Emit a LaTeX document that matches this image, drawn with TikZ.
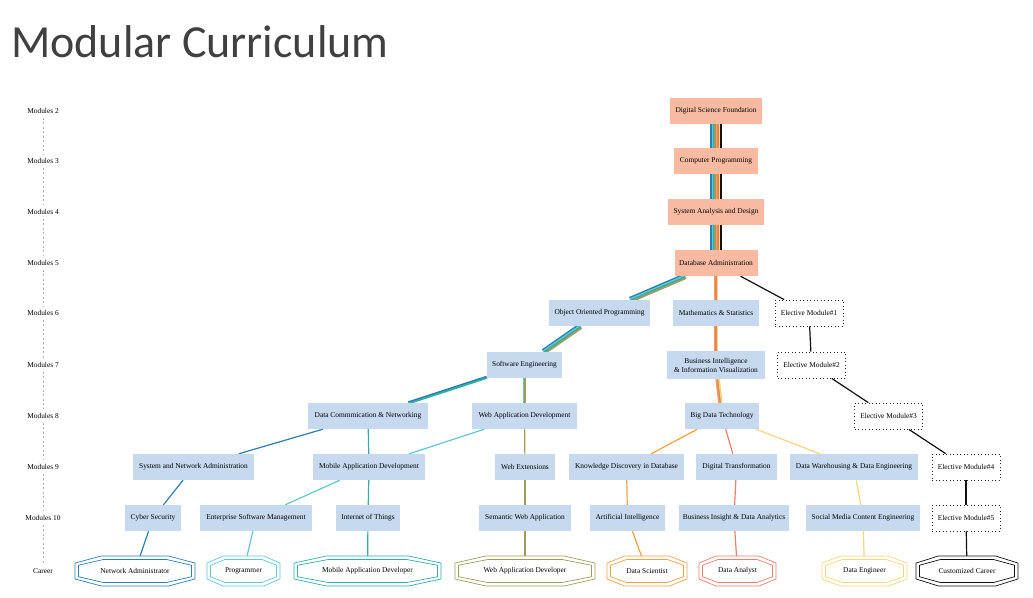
\documentclass[tikz,border=0pt]{standalone}
\usepackage{fontspec}
\setmainfont{Liberation Serif}
\newfontfamily\titlefont{Carlito}
\usetikzlibrary{calc}
\pgfdeclarelayer{bg}
\pgfsetlayers{bg,main}
\definecolor{boxblue}{HTML}{C6D9EE}
\definecolor{salmonbox}{HTML}{F8BBA2}
\definecolor{titlegray}{HTML}{404040}
\definecolor{cNA}{HTML}{2A7FB0}
\definecolor{cProg}{HTML}{62C6D6}
\definecolor{cMob}{HTML}{2EAEA6}
\definecolor{cWeb}{HTML}{A09B5C}
\definecolor{cDS}{HTML}{F3A145}
\definecolor{cDA}{HTML}{E8806C}
\definecolor{cDE}{HTML}{F4D67C}
\definecolor{cCC}{HTML}{111111}
\newcommand\stripew{1.4}
\newcommand\medge[3]{%
  \path (#1) -- (#2) coordinate[pos=0] (ms) coordinate[pos=1] (mt);
  \foreach \c [count=\i] in {#3} {\xdef\nst{\i}}%
  \foreach \c [count=\i] in {#3} {%
    \pgfmathsetmacro\off{(\i-(\nst+1)/2)*\stripew}%
    \draw[color=\c, line width=1.75pt] ($(ms)!\off pt!90:(mt)$) -- ($(mt)!\off pt!-90:(ms)$);
  }%
}
\newcommand\octa[4]{%
  \draw[#4, line width=0.7pt, shift={(#1)}]
    (-#2,{-0.53*#3}) -- ({-0.56*#2},-#3) -- ({0.56*#2},-#3) -- (#2,{-0.53*#3})
    -- (#2,{0.53*#3}) -- ({0.56*#2},#3) -- ({-0.56*#2},#3) -- (-#2,{0.53*#3}) -- cycle;
  \draw[#4, line width=0.7pt, shift={(#1)}]
    ({-(#2-3.5)},{-0.5*(#3-3.5)}) -- ({-0.56*(#2-3.5)},{-(#3-3.5)}) -- ({0.56*(#2-3.5)},{-(#3-3.5)}) -- ({#2-3.5},{-0.5*(#3-3.5)})
    -- ({#2-3.5},{0.5*(#3-3.5)}) -- ({0.56*(#2-3.5)},{#3-3.5}) -- ({-0.56*(#2-3.5)},{#3-3.5}) -- ({-(#2-3.5)},{0.5*(#3-3.5)}) -- cycle;
}
\begin{document}
\begin{tikzpicture}[x=1pt,y=-1pt,font=\fontsize{7.4}{9}\selectfont,
  box/.style={rectangle, fill=boxblue, minimum height=26pt, inner sep=2pt, text=black},
  found/.style={box, fill=salmonbox},
  bw/.style={minimum width=#1pt},
  elect/.style={rectangle, draw=black!85, line width=0.8pt, dash pattern=on 0.9pt off 2.6pt, fill=white, minimum height=26pt, minimum width=68pt, inner sep=2pt},
  career/.style={rectangle, minimum height=30pt, inner sep=0pt},
  rowlab/.style={inner sep=4pt, text=black},
  rowdash/.style={draw=black!30, line width=0.5pt, dash pattern=on 2pt off 2.5pt},
  edge/.style={line width=1.2pt}]
\useasboundingbox (0,0) rectangle (1033,597);
\node[anchor=base west, text=titlegray, font=\titlefont\fontsize{46}{50}\selectfont, inner sep=0pt] (title) at (11,57) {Modular Curriculum};

% row labels
\node[rowlab] (r2) at (43,111) {Modules 2};
\node[rowlab] (r3) at (43,161) {Modules 3};
\node[rowlab] (r4) at (43,212) {Modules 4};
\node[rowlab] (r5) at (43,263) {Modules 5};
\node[rowlab] (r6) at (43,313) {Modules 6};
\node[rowlab] (r7) at (43,365) {Modules 7};
\node[rowlab] (r8) at (43,416) {Modules 8};
\node[rowlab] (r9) at (43,467) {Modules 9};
\node[rowlab] (r10) at (43,518) {Modules 10};
\node[rowlab] (rc) at (43,571) {Career};
\foreach \a/\b in {r2/r3,r3/r4,r4/r5,r5/r6,r6/r7,r7/r8,r8/r9,r9/r10,r10/rc}
  \draw[rowdash] (\a) -- (\b);

% foundation
\node[found,bw=92] (dsf) at (716,111) {Digital Science Foundation};
\node[found,bw=84] (cp) at (716,161) {Computer Programming};
\node[found,bw=96] (sad) at (716,212) {System Analysis and Design};
\node[found,bw=83] (dba) at (716,263) {Database Administration};
% row 6
\node[box,bw=101] (oop) at (599.5,313) {Object Oriented Programming};
\node[box,bw=86] (math) at (716,313) {Mathematics \& Statistics};
\node[elect] (e1) at (809,313) {Elective Module\#1};
% row 7
\node[box,bw=75] (se) at (524.5,365) {Software Engineering};
\node[box,bw=98,minimum height=28pt,align=center] (bi) at (716,365) {Business Intelligence\\\& Information Visualization};
\node[elect] (e2) at (811.5,365) {Elective Module\#2};
% row 8
\node[box,bw=120] (dcn) at (368,416) {Data Commmication \& Networking};
\node[box,bw=105] (wad) at (524.5,416) {Web Application Development};
\node[box,bw=74] (bdt) at (722,416) {Big Data Technology};
\node[elect] (e3) at (888.5,416) {Elective Module\#3};
% row 9
\node[box,bw=121] (sna) at (193.5,467) {System and Network Administration};
\node[box,bw=112] (mad) at (369,467) {Mobile Application Development};
\node[box,bw=60] (we) at (525,467) {Web Extensions};
\node[box,bw=115] (kdd) at (626.5,467) {Knowledge Discovery in Database};
\node[box,bw=81] (dt) at (736.5,467) {Digital Transformation};
\node[box,bw=128] (dwde) at (854,467) {Data Warehousing \& Data Engineering};
\node[elect] (e4) at (966,467) {Elective Module\#4};
% row 10
\node[box,bw=56] (cs) at (153,518) {Cyber Security};
\node[box,bw=112] (esm) at (256,518) {Enterprise Software Management};
\node[box,bw=64] (iot) at (368,518) {Internet of Things};
\node[box,bw=92] (swa) at (525,518) {Semantic Web Application};
\node[box,bw=75] (ai) at (627.5,518) {Artificial Intelligence};
\node[box,bw=110] (bida) at (734,518) {Business Insight \& Data Analytics};
\node[box,bw=114] (smce) at (863,518) {Social Media Content Engineering};
\node[elect] (e5) at (966,518) {Elective Module\#5};
% careers
\node[career,bw=120] (na) at (135,571) {Network Administrator};
\node[career,bw=73] (prog) at (243.5,571) {Programmer};
\node[career,bw=147] (mobdev) at (367.5,571) {Mobile Application Developer};
\node[career,bw=140] (webdev) at (525,571) {Web Application Developer};
\node[career,bw=80] (ds) at (647,571) {Data Scientist};
\node[career,bw=77] (da) at (737.5,571) {Data Analyst};
\node[career,bw=85] (de) at (864.5,571) {Data Engineer};
\node[career,bw=102] (cc) at (967,571) {Customized Career};
\octa{na}{60}{15}{cNA}
\octa{prog}{36.5}{15}{cProg}
\octa{mobdev}{73.5}{15}{cMob}
\octa{webdev}{70}{15}{cWeb}
\octa{ds}{40}{15}{cDS}
\octa{da}{38.5}{15}{cDA}
\octa{de}{42.5}{15}{cDE}
\octa{cc}{51}{15}{cCC}

\begin{pgfonlayer}{bg}
\medge{dsf}{cp}{cNA,cProg,cMob,cWeb,cDS,cDA,cDE,cCC}
\medge{cp}{sad}{cNA,cProg,cMob,cWeb,cDS,cDA,cDE,cCC}
\medge{sad}{dba}{cNA,cProg,cMob,cWeb,cDS,cDA,cDE,cCC}
\medge{dba}{oop}{cNA,cProg,cMob,cWeb}
\medge{dba}{math}{cDS,cDA,cDE}
\medge{oop}{se}{cNA,cProg,cMob,cWeb}
\medge{math}{bi}{cDS,cDA,cDE}
\medge{bi}{bdt}{cDS,cDA,cDE}
\medge{se}{dcn}{cNA,cMob}
\medge{se}{wad}{cProg,cWeb}
\draw[edge,cCC] (dba) -- (e1);
\draw[edge,cCC] (e1) -- (e2);
\draw[edge,cCC] (e2) -- (e3);
\draw[edge,cCC] (e3) -- (e4);
\draw[edge,cCC] (e4) -- (e5);
\draw[edge,cCC] (e5) -- (cc);
\draw[edge,cNA] (dcn) -- (sna);
\draw[edge,cMob] (dcn) -- (mad);
\draw[edge,cProg] (wad) -- (mad);
\draw[edge,cWeb] (wad) -- (we);
\draw[edge,cNA] (sna) -- (cs);
\draw[edge,cNA] (cs) -- (na);
\draw[edge,cProg] (mad) -- (esm);
\draw[edge,cProg] (esm) -- (prog);
\draw[edge,cMob] (mad) -- (iot);
\draw[edge,cMob] (iot) -- (mobdev);
\draw[edge,cWeb] (we) -- (swa);
\draw[edge,cWeb] (swa) -- (webdev);
\draw[edge,cDS] (bdt) -- (kdd);
\draw[edge,cDS] (kdd) -- (ai);
\draw[edge,cDS] (ai) -- (ds);
\draw[edge,cDA] (bdt) -- (dt);
\draw[edge,cDA] (dt) -- (bida);
\draw[edge,cDA] (bida) -- (da);
\draw[edge,cDE] (bdt) -- (dwde);
\draw[edge,cDE] (dwde) -- (smce);
\draw[edge,cDE] (smce) -- (de);
\end{pgfonlayer}
\end{tikzpicture}
\end{document}
